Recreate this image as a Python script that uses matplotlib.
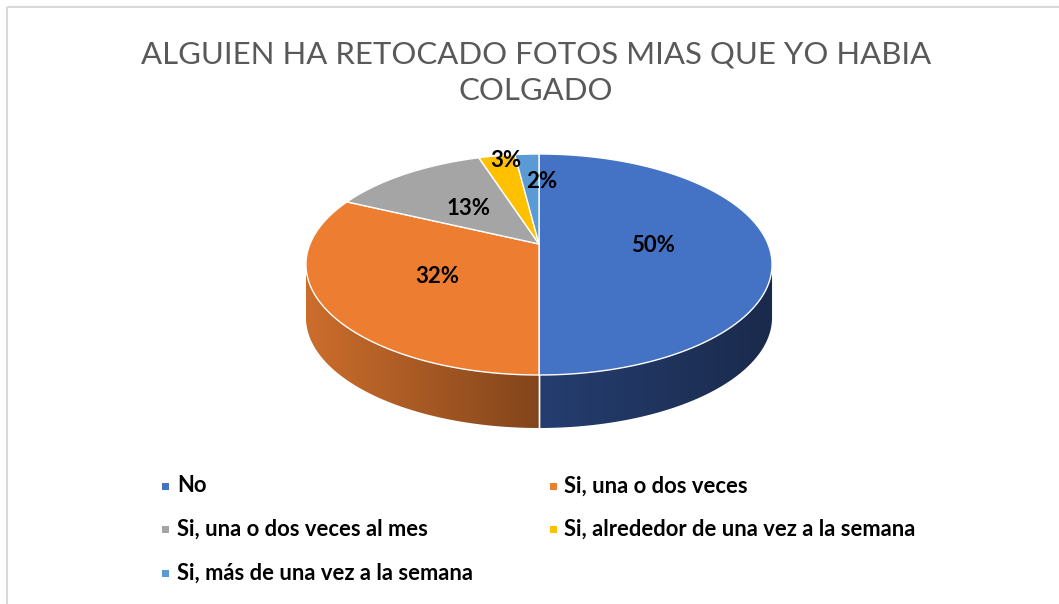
import numpy as np
import matplotlib
matplotlib.use("Agg")
import matplotlib.pyplot as plt
from matplotlib.patches import Polygon, Rectangle
from matplotlib.colors import LinearSegmentedColormap

# Data
categories = ["No", "Si, una o dos veces", "Si, una o dos veces al mes",
              "Si, alrededor de una vez a la semana", "Si, más de una vez a la semana"]
values = [50, 32, 13, 3, 2]
colors = ["#4472C4", "#ED7D31", "#A5A5A5", "#FFC000", "#5B9BD5"]
side_colors = [("#253e70", "#1a2a4c"), ("#cc6d2c", "#82451b"),
               ("#7c7c7c", "#5a5a5a"), ("#bf9000", "#8f6c00"), ("#41719c", "#2e5070")]
title_lines = ["ALGUIEN HA RETOCADO FOTOS MIAS QUE YO HABIA", "COLGADO"]

# Geometry of the 3D pie (pixels), slight perspective like Excel
W, H = 1059, 604
cx, cy = 539, 244          # projected pie centre
A, B, k = 229, 106.7, 0.1855
depth = 53
label_r = [0.5, 0.5, 0.5, 0.965, 0.68]
label_dx = [0, 0, 0, 8, 11]

fig = plt.figure(figsize=(W / 100, H / 100), dpi=100)
ax = fig.add_axes([0, 0, 1, 1])


def proj(theta, r=1.0, dy=0.0):
    # theta in degrees, clockwise from top; r = fraction of radius
    t = np.radians(theta)
    u, w = r * np.sin(t), r * np.cos(t)
    s = 1 + k * w
    return cx + A * u / s, cy - B * w / s + dy


def arc(a, b, dy=0.0, n=240):
    xs, ys = proj(np.linspace(a, b, n), dy=dy)
    return np.column_stack([xs, ys])


total = sum(values)
angles = np.concatenate([[0], np.cumsum(values) / total * 360])
th_r = np.degrees(np.arccos(-k))   # silhouette, right side
th_l = 360 - th_r                  # silhouette, left side

# side walls
for i in range(len(values)):
    a, b = max(angles[i], th_r), min(angles[i + 1], th_l)
    if b <= a:
        continue
    verts = np.vstack([arc(a, b), arc(b, a, depth)])
    poly = Polygon(verts, closed=True, fc="none", ec="none")
    ax.add_patch(poly)
    x0, x1 = verts[:, 0].min(), verts[:, 0].max()
    y0, y1 = verts[:, 1].min(), verts[:, 1].max()
    cmap = LinearSegmentedColormap.from_list("s%d" % i, side_colors[i])
    grad = np.linspace(0, 1, 256).reshape(1, -1)
    im = ax.imshow(grad, cmap=cmap, extent=(x0, x1, y1, y0), aspect="auto",
                   interpolation="bilinear", zorder=2)
    im.set_clip_path(poly)
    for ang in (a, b):
        if th_r < ang < th_l:
            xa, ya = proj(ang)
            ax.plot([xa, xa], [ya, ya + depth], color="white", lw=1, zorder=3)

# top face
for i in range(len(values)):
    verts = np.vstack([[cx, cy], arc(angles[i], angles[i + 1])])
    ax.add_patch(Polygon(verts, closed=True, fc=colors[i], ec="white", lw=1.0,
                         joinstyle="round", zorder=4))

# data labels
for i, v in enumerate(values):
    mid = (angles[i] + angles[i + 1]) / 2
    x, y = proj(mid, label_r[i])
    ax.text(x + label_dx[i], y + 2, f"{v / total:.0%}", ha="center", va="center",
            fontsize=16, fontweight="bold", family="Lato", color="black", zorder=5)

ax.set_xlim(0, W)
ax.set_ylim(H, 0)
ax.axis("off")

# chart border
ax.add_patch(Rectangle((7, 7), 1100, 700, fill=False, ec="#d9d9d9", lw=1.5))

# title (two lines, baselines placed like the original)
for line, yb in zip(title_lines, [63, 100]):
    ax.text(536, yb, line, ha="center", va="baseline", fontsize=22.4,
            family="Lato", color="#595959")

# legend
leg_pos = [(165.5, 486), (553, 486), (165.5, 529), (553, 529), (165.5, 573)]
for (lx, ly), c, lab in zip(leg_pos, colors, categories):
    ax.add_patch(Rectangle((lx - 3.5, ly - 3.5), 7, 7, fc=c, ec="none"))
    ax.text(lx + 11.5, ly, lab, ha="left", va="center", fontsize=15.8,
            fontweight="bold", family="Lato", color="black")

fig.savefig("out.png", dpi=100)
